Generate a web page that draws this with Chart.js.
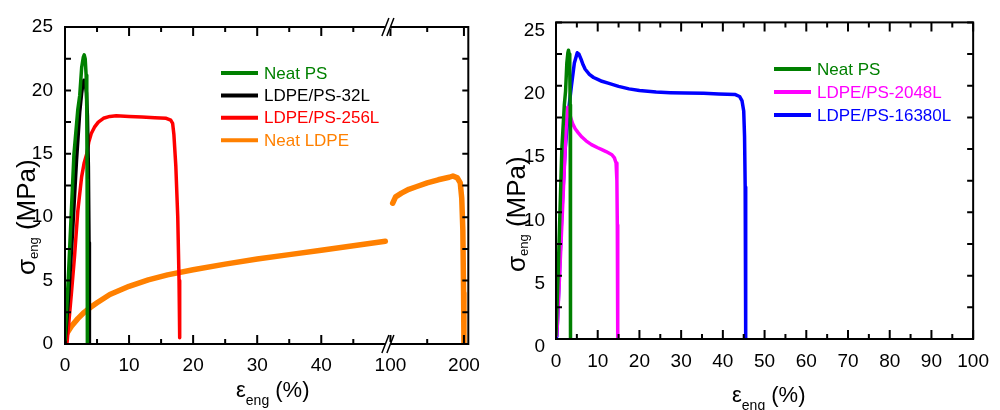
<!DOCTYPE html>
<html>
<head>
<meta charset="utf-8">
<script src="https://cdn.jsdelivr.net/npm/chart.js@4.4.1/dist/chart.umd.min.js"></script>
<style>
  html, body { margin: 0; padding: 0; background: #fff; }
  canvas { position: absolute; top: 0; }
  #leftChart { left: 0; }
  #rightChart { left: 490px; }
</style>
</head>
<body>
<canvas id="leftChart" width="490" height="410"></canvas>
<canvas id="rightChart" width="510" height="410"></canvas>
<script>
// ---- data (strain in %, stress in MPa) ----
const neatPsStrain = [0, 0.5, 0.95, 1.4, 2.0, 2.3, 2.6, 2.85, 3.0, 3.15, 3.3, 3.4, 3.45, 3.48, 3.5];
const neatPsStress = [0.3, 5, 10, 15, 18.5, 19.6, 21.8, 22.6, 22.8, 22.5, 21.2, 18.5, 13, 6, 0];

const lp32Strain = [0, 0.6, 1.2, 1.8, 2.3, 2.6, 2.8, 2.95, 3.15, 3.35, 3.5, 3.65, 3.75, 3.8, 3.82];
const lp32Stress = [0, 4, 9, 14.5, 18.3, 19.8, 20.5, 20.8, 20.6, 19.8, 18, 14, 8, 3, 0];

const lp256Strain = [0.3, 1.0, 1.5, 2.0, 2.6, 3.0, 3.4, 3.7, 4.1, 4.6, 5.2, 6.0, 7.0, 8.0, 10, 12, 14, 15.8, 16.5, 16.8, 17.0, 17.3, 17.6, 17.8, 17.9];
const lp256Stress = [0, 4, 7, 10.5, 13.2, 14.3, 15, 15.9, 16.6, 17.1, 17.5, 17.8, 17.95, 18.0, 17.95, 17.9, 17.85, 17.8, 17.65, 17.4, 16.5, 14, 10, 5, 0.5];

const ldpeStrain = [0, 0.5, 1, 2, 3, 4, 5, 7, 10, 13, 16, 20, 25, 30, 35, 40, 45, 50];
const ldpeStress = [0.6, 1.0, 1.4, 2.0, 2.5, 2.9, 3.25, 3.9, 4.55, 5.05, 5.45, 5.85, 6.3, 6.7, 7.05, 7.4, 7.75, 8.1];
const ldpeStrainHi = [103, 107, 115, 125, 135, 150, 165, 180, 185, 191, 195, 197, 198.5, 199.5, 200];
const ldpeStressHi = [11.1, 11.6, 11.9, 12.2, 12.4, 12.7, 12.95, 13.15, 13.25, 13.1, 12.7, 11.5, 9, 4, 0];

const lp2048Strain = [0.2, 1.0, 1.8, 2.4, 2.8, 3.1, 3.5, 4.0, 4.6, 5.3, 6.2, 7.2, 8.5, 10, 11, 12, 13.4, 14.0, 14.4, 14.6, 14.7, 14.8];
const lp2048Stress = [0.3, 6, 12, 16.5, 18.3, 18.0, 17.5, 17.0, 16.6, 16.3, 15.95, 15.65, 15.35, 15.1, 14.95, 14.8, 14.55, 14.3, 13.9, 12.5, 9, 0];

const lp16380Strain = [0.2, 0.8, 1.4, 2.2, 3.0, 3.7, 4.4, 5.1, 5.5, 6.0, 6.5, 7.0, 8.0, 9.0, 10, 11, 12.5, 15, 17.5, 20, 24, 27.4, 31, 35.4, 39, 43, 44, 44.6, 45, 45.2, 45.35, 45.45, 45.5];
const lp16380Stress = [0.2, 5, 10, 15, 18, 20, 21.8, 22.6, 22.5, 22.1, 21.65, 21.3, 20.9, 20.65, 20.5, 20.35, 20.2, 19.95, 19.75, 19.62, 19.5, 19.45, 19.42, 19.4, 19.35, 19.3, 19.15, 18.8, 18.0, 16, 12, 5, 0];

// tick labels
const leftXTicks = [0, 10, 20, 30, 40, 100, 200];
const leftXMinor = [5, 15, 25, 35, 45, 150];
const rightXTicks = [0, 10, 20, 30, 40, 50, 60, 70, 80, 90, 100];
const rightXMinor = [5, 15, 25, 35, 45, 55, 65, 75, 85, 95];
const yTicks = [0, 5, 10, 15, 20, 25];
const yMinor = [2.5, 7.5, 12.5, 17.5, 22.5];

const GREEN = 'rgb(0,128,0)', BLACK = '#000', RED = '#ff0000', ORANGE = '#ff8000',
      MAGENTA = '#ff00ff', BLUE = '#0000ff';
const FONT = '"Liberation Sans", Arial, sans-serif';

// broken x axis on the left panel: 0-50 linear, then 100-200 compressed
function brk(v) {
  return v <= 50 ? v : 50.8 + (v - 100) * 0.1147;
}
const ident = v => v;

function pts(xs, ys, map) {
  return xs.map((x, i) => ({ x: map(x), y: ys[i] }));
}

function drawRich(ctx, x, y, parts, rotate) {
  ctx.save();
  ctx.translate(x, y);
  if (rotate) ctx.rotate(-Math.PI / 2);
  ctx.fillStyle = '#000';
  ctx.textBaseline = 'alphabetic';
  let cx = 0;
  parts.forEach(p => {
    ctx.font = p.size + 'px ' + FONT;
    ctx.fillText(p.t, cx, p.dy || 0);
    cx += ctx.measureText(p.t).width;
  });
  ctx.restore();
}

const framePlugin = {
  id: 'frame',
  afterDatasetsDraw(chart, args, o) {
    const { ctx, chartArea: a, scales: { x, y } } = chart;
    ctx.save();
    ctx.strokeStyle = '#000';
    ctx.lineWidth = 2;
    ctx.beginPath();
    const tickX = (v, len) => {
      const px = x.getPixelForValue(o.map(v));
      ctx.moveTo(px, a.bottom); ctx.lineTo(px, a.bottom - len);
      ctx.moveTo(px, a.top); ctx.lineTo(px, a.top + len);
    };
    o.xMajor.forEach(v => tickX(v, 9));
    o.xMinor.forEach(v => tickX(v, 5));
    yTicks.concat(yMinor).forEach(v => {
      const py = y.getPixelForValue(v);
      ctx.moveTo(a.left, py); ctx.lineTo(a.left + 6, py);
      ctx.moveTo(a.right, py); ctx.lineTo(a.right - 6, py);
    });
    ctx.stroke();

    ctx.strokeRect(a.left, a.top, a.width, a.height);

    // axis break marks
    if (o.broken) {
      const bx = (x.getPixelForValue(brk(50)) + x.getPixelForValue(brk(100))) / 2;
      [a.top, a.bottom].forEach(yc => {
        ctx.fillStyle = '#fff';
        ctx.fillRect(bx - 3, yc - 2, 6, 4);
        ctx.lineWidth = 1.5;
        ctx.beginPath();
        ctx.moveTo(bx - 6, yc + 9); ctx.lineTo(bx + 1, yc - 9);
        ctx.moveTo(bx - 1, yc + 9); ctx.lineTo(bx + 6, yc - 9);
        ctx.stroke();
      });
    }

    // legend inside the plot
    const lg = o.legend;
    chart.data.datasets.forEach((ds, i) => {
      const ly = lg.y + i * lg.dy;
      ctx.strokeStyle = ds.borderColor;
      ctx.lineWidth = 4;
      ctx.beginPath();
      ctx.moveTo(lg.x, ly); ctx.lineTo(lg.x + 37, ly);
      ctx.stroke();
      ctx.fillStyle = ds.borderColor;
      ctx.font = '17px ' + FONT;
      ctx.textBaseline = 'middle';
      ctx.fillText(ds.label, lg.x + 43, ly + 1);
    });

    // axis titles with subscripts
    drawRich(ctx, o.yTitle[0], o.yTitle[1], [
      { t: 'σ', size: 26 }, { t: 'eng', size: 13, dy: 3 }, { t: ' (MPa)', size: 26 }
    ], true);
    drawRich(ctx, o.xTitle[0], o.xTitle[1], [
      { t: 'ε', size: 22 }, { t: 'eng', size: 14, dy: 8 }, { t: ' (%)', size: 22 }
    ], false);
    ctx.restore();
  }
};

function line(label, color, data, width) {
  return {
    label, data, borderColor: color, backgroundColor: color,
    borderWidth: width, showLine: true, pointRadius: 0, tension: 0,
    borderJoinStyle: 'round', borderCapStyle: 'round', spanGaps: false
  };
}

function makeChart(id, cfg) {
  return new Chart(document.getElementById(id), {
    type: 'scatter',
    data: { datasets: cfg.datasets },
    options: {
      responsive: false,
      animation: false,
      layout: { padding: cfg.pad },
      plugins: {
        legend: { display: false },
        tooltip: { enabled: false },
        frame: cfg.frame
      },
      scales: {
        x: {
          type: 'linear', min: 0, max: cfg.xMax,
          afterBuildTicks: s => { s.ticks = cfg.xTicks.map(v => ({ value: cfg.frame.map(v) })); },
          afterFit: s => { s.height = cfg.xHeight; },
          ticks: {
            autoSkip: false, maxRotation: 0, padding: cfg.xPad, color: '#000',
            font: { family: FONT, size: 19 },
            callback: (v, i) => String(cfg.xTicks[i])
          },
          grid: { display: false, drawTicks: false },
          border: { display: false }
        },
        y: {
          min: 0, max: 25,
          afterBuildTicks: s => { s.ticks = yTicks.map(v => ({ value: v })); },
          afterFit: s => { s.width = cfg.yWidth; },
          ticks: {
            padding: cfg.yPad, labelOffset: cfg.yOffset, color: '#000',
            font: { family: FONT, size: 19 }
          },
          grid: { display: false, drawTicks: false },
          border: { display: false }
        }
      }
    },
    plugins: [framePlugin]
  });
}

// ---- left panel ----
const ldpeData = pts(ldpeStrain, ldpeStress, brk)
  .concat([{ x: brk(75), y: null }])
  .concat(pts(ldpeStrainHi, ldpeStressHi, brk));

makeChart('leftChart', {
  datasets: [
    line('Neat PS', GREEN, pts(neatPsStrain, neatPsStress, brk), 3.5),
    line('LDPE/PS-32L', BLACK, pts(lp32Strain, lp32Stress, brk), 3.5),
    line('LDPE/PS-256L', RED, pts(lp256Strain, lp256Stress, brk), 3.5),
    line('Neat LDPE', ORANGE, ldpeData, 5.5)
  ],
  xMax: 62.95, xTicks: leftXTicks,
  pad: { left: 0, top: 27, right: 19, bottom: 0 },
  xHeight: 66, yWidth: 65, xPad: 10, yPad: 12, yOffset: 0,
  frame: {
    map: brk, broken: true, xMajor: leftXTicks, xMinor: leftXMinor,
    legend: { x: 221, y: 73, dy: 22.4 },
    yTitle: [35, 275], xTitle: [236, 397]
  }
});

// ---- right panel ----
makeChart('rightChart', {
  datasets: [
    line('Neat PS', GREEN, pts(neatPsStrain, neatPsStress, ident), 3.5),
    line('LDPE/PS-2048L', MAGENTA, pts(lp2048Strain, lp2048Stress, ident), 3.5),
    line('LDPE/PS-16380L', BLUE, pts(lp16380Strain, lp16380Stress, ident), 3.5)
  ],
  xMax: 100, xTicks: rightXTicks,
  pad: { left: 0, top: 19, right: 17, bottom: 0 },
  xHeight: 71, yWidth: 66, xPad: 11, yPad: 11, yOffset: 8,
  frame: {
    map: ident, broken: false, xMajor: rightXTicks, xMinor: rightXMinor,
    legend: { x: 284, y: 69, dy: 23 },
    yTitle: [35, 272], xTitle: [242, 402]
  }
});
</script>
</body>
</html>
